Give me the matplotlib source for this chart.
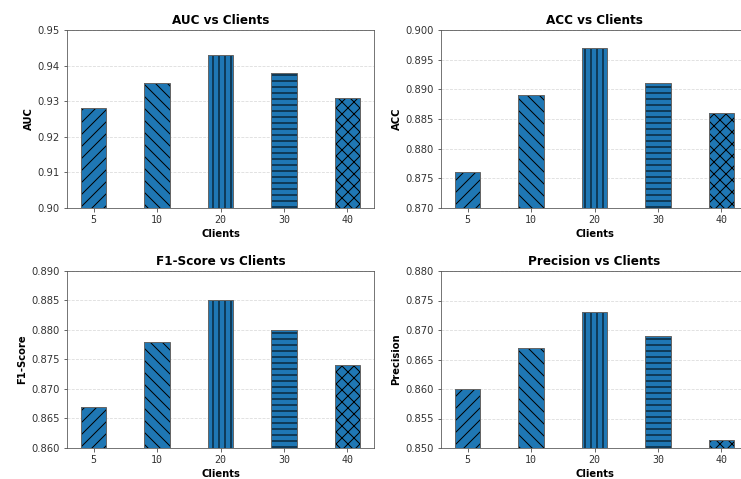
import matplotlib
matplotlib.use("Agg")
import matplotlib.pyplot as plt

clients = ["5", "10", "20", "30", "40"]
hatches = ["//", "\\\\", "||", "--", "xx"]

auc = [0.928, 0.935, 0.943, 0.938, 0.931]
acc = [0.876, 0.889, 0.897, 0.891, 0.886]
f1 = [0.867, 0.878, 0.885, 0.880, 0.874]
precision = [0.860, 0.867, 0.873, 0.869, 0.8514]

metrics = [
    ("AUC", auc, (0.90, 0.95), [0.90, 0.91, 0.92, 0.93, 0.94, 0.95]),
    ("ACC", acc, (0.870, 0.900), [0.870, 0.875, 0.880, 0.885, 0.890, 0.895, 0.900]),
    ("F1-Score", f1, (0.860, 0.890), [0.860, 0.865, 0.870, 0.875, 0.880, 0.885, 0.890]),
    ("Precision", precision, (0.850, 0.880), [0.850, 0.855, 0.860, 0.865, 0.870, 0.875, 0.880]),
]

W, H = 741, 479
fig = plt.figure(figsize=(W / 72, H / 72), dpi=72)

# axes boxes in pixels (left, top, width, height)
boxes = [(67, 30, 307, 178), (441, 30, 307, 178),
         (67, 271, 307, 177), (441, 271, 307, 177)]

for (name, values, ylim, yticks), (l, t, w, h) in zip(metrics, boxes):
    ax = fig.add_axes([l / W, 1 - (t + h) / H, w / W, h / H])
    x = range(len(clients))
    # hatched fill (hatch takes edge colour), then a grey outline on top
    bars = ax.bar(x, values, width=0.4, color="#1f77b4", edgecolor="black",
                  linewidth=0)
    for bar, hatch in zip(bars, hatches):
        bar.set_hatch(hatch)
    ax.bar(x, values, width=0.4, fill=False, edgecolor="#666666", linewidth=1.0)
    ax.set_xticks(list(x))
    ax.set_xticklabels(clients, fontfamily="DejaVu Sans Mono")
    ax.set_ylim(*ylim)
    ax.set_yticks(yticks)
    ax.tick_params(colors="#444444", labelcolor="#333333")
    ax.set_title(f"{name} vs Clients", fontsize=12, fontweight="bold")
    ax.set_xlabel("Clients", fontsize=10, fontweight="bold")
    ax.set_ylabel(name, fontsize=10, fontweight="bold")
    ax.yaxis.grid(True, linestyle="--", color="lightgray", alpha=0.8)
    ax.set_axisbelow(True)
    for sp in ax.spines.values():
        sp.set_color("#555555")

fig.savefig("out.png", dpi=72)
